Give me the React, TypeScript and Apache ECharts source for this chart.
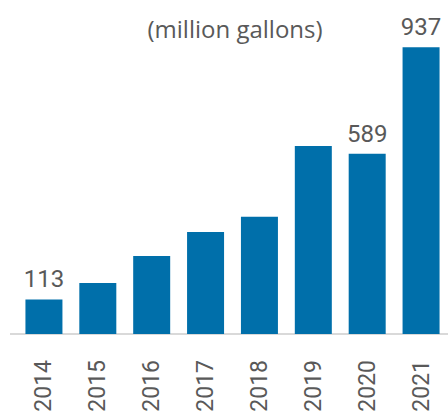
import React, { useEffect, useRef } from "react";
import * as echarts from "echarts";

const categories = ["2014", "2015", "2016", "2017", "2018", "2019", "2020", "2021"];
const values = [113, 167, 255, 333, 383, 614, 589, 937];
const labeledYears = ["2014", "2020", "2021"];
const subtitle = "(million gallons)";

export default function App() {
  const ref = useRef<HTMLDivElement>(null);
  useEffect(() => {
    if (!ref.current) return;
    const chart = echarts.init(ref.current, null, { renderer: "svg" });
    const data = values.map((v, i) => ({
      value: v,
      label: { show: labeledYears.includes(categories[i]) },
    }));
    chart.setOption({
      animation: false,
      grid: { left: 17, right: 0, top: 28, bottom: 85 },
      xAxis: {
        type: "category",
        data: categories,
        axisLine: { show: true, lineStyle: { color: "#d9d9d9", width: 2 } },
        axisTick: { show: false },
        axisLabel: {
          rotate: 90,
          fontSize: 23,
          fontFamily: "Roboto",
          color: "#595959",
          margin: 26,
          interval: 0,
        },
      },
      yAxis: { type: "value", min: 0, max: 1000, show: false, splitLine: { show: false } },
      series: [
        {
          type: "bar",
          data,
          barWidth: 37,
          itemStyle: { color: "#006FAA" },
          label: {
            position: "top",
            distance: 8,
            fontSize: 24,
            fontFamily: "Roboto",
            color: "#595959",
          },
        },
      ],
      graphic: [
        {
          type: "text",
          x: 235,
          y: 28,
          style: {
            text: subtitle,
            fontSize: 24,
            fontFamily: "Open Sans",
            fill: "#595959",
            textAlign: "center",
            textVerticalAlign: "middle",
          },
        },
        {
          type: "line",
          shape: { x1: 10, y1: 334, x2: 18, y2: 334 },
          style: { stroke: "#d9d9d9", lineWidth: 2 },
        },
      ],
    });
    return () => chart.dispose();
  }, []);
  return (
    <div
      ref={ref}
      style={{ position: "absolute", left: 0, top: 0, width: 448, height: 419 }}
    />
  );
}
